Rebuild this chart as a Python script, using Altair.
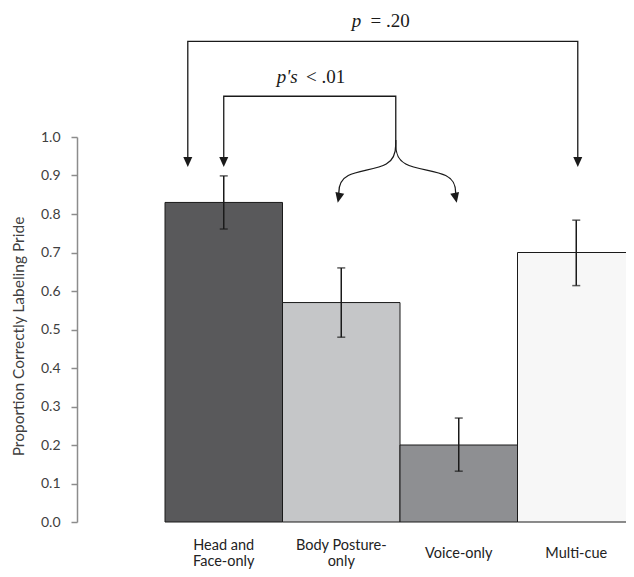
import altair as alt
import pandas as pd

# ---- chart values -------------------------------------------------------
conditions = ["Head and|Face-only", "Body  Posture-|only", "Voice-only", "Multi-cue"]
proportions = [0.83, 0.57, 0.20, 0.70]
err_low = [0.761, 0.480, 0.132, 0.614]
err_high = [0.899, 0.660, 0.270, 0.784]
bar_colors = ["#59595b", "#c5c6c8", "#8e8f92", "#f7f7f7"]
y_ticks = [0.0, 0.1, 0.2, 0.3, 0.4, 0.5, 0.6, 0.7, 0.8, 0.9, 1.0]
y_title = "Proportion Correctly Labeling Pride"

# ---- annotation geometry (x in bar-index units, 0 = first bar; y in proportion units)
bracket_seg = [1, 1, 1, 1, 2, 2, 2, 2]
bracket_ord = [0, 1, 2, 3, 0, 1, 2, 3]
bracket_u = [-0.306, -0.306, 3.013, 3.013, 0.0, 0.0, 1.464, 1.464]
bracket_y = [0.935, 1.2484, 1.2484, 0.935, 0.935, 1.1058, 1.1058, 0.9922]

curve_seg = [1, 1, 1, 1, 2, 2, 2, 2]
curve_ord = [0, 1, 2, 3, 0, 1, 2, 3]
curve_u = [1.464, 1.464, 0.979, 0.979, 1.464, 1.464, 1.974, 1.974]
curve_y = [0.9922, 0.9194, 0.9090, 0.8440, 0.9922, 0.9194, 0.9090, 0.8440]

arrow_u = [-0.306, 0.0, 3.013, 0.979, 1.974]
arrow_y = [0.935, 0.935, 0.935, 0.8422, 0.8422]
arrow_angle = [0, 0, 0, 12, 348]

ital_text = ["p", "p's"]
ital_u = [1.089, 0.451]
ital_y = [1.2867, 1.1396]
plain_text = ["= .20", "< .01"]
plain_u = [1.250, 0.700]
plain_y = [1.2867, 1.1396]

# ---- tables --------------------------------------------------------------
bars_df = pd.DataFrame({"condition": conditions, "prop": proportions,
                        "lo": err_low, "hi": err_high})
brackets_df = pd.DataFrame({"seg": bracket_seg, "ord": bracket_ord, "u": bracket_u, "y": bracket_y})
curves_df = pd.DataFrame({"seg": curve_seg, "ord": curve_ord, "u": curve_u, "y": curve_y})
arrows_df = pd.DataFrame({"u": arrow_u, "y": arrow_y, "ang": arrow_angle})
ital_df = pd.DataFrame({"t": ital_text, "u": ital_u, "y": ital_y})
plain_df = pd.DataFrame({"t": plain_text, "u": plain_u, "y": plain_y})

FONT = "Lato"
INK = "#1a1a1a"

x_band = alt.Scale(domain=conditions, range=[88, 558], paddingInner=0, paddingOuter=0)
y_lin = alt.Scale(domain=[0, 1], nice=False)

# two-line labels start higher so that one-line labels sit midway between their lines
x_axis = alt.Axis(domain=False, ticks=False, tickSize=0, labelAngle=0, title=None,
                  labelExpr="split(datum.label, '|')", labelFont=FONT,
                  labelFontSize=14.5, labelColor="#222222",
                  labelPadding={"condition": {"test": "indexof(datum.value, '|') >= 0",
                                              "value": 16},
                                "value": 24},
                  labelBaseline="top", labelLineHeight=16)
y_axis = alt.Axis(values=y_ticks, format=".1f", grid=False,
                  tickSize=6, tickColor="#8c8c8c", tickWidth=1.5,
                  domainColor="#8c8c8c", domainWidth=1.5, labelPadding=11,
                  labelFont=FONT, labelFontSize=14, labelColor="#404040",
                  title=y_title, titleFont=FONT, titleFontSize=15.5,
                  titleFontWeight="normal", titleColor="#404040",
                  titleAngle=-90, titleAlign="center", titleBaseline="middle",
                  titleX=-59, titleY=199)

def xenc():
    return alt.X("condition:N", sort=conditions, scale=x_band, axis=x_axis, title=None)

def yenc(field):
    return alt.Y(field, scale=y_lin, axis=y_axis, title=y_title)

bars = alt.Chart(bars_df).mark_bar(stroke=INK, strokeWidth=1).encode(
    x=xenc(), y=yenc("prop:Q"),
    color=alt.Color("condition:N", scale=alt.Scale(domain=conditions, range=bar_colors),
                    legend=None))
rules = alt.Chart(bars_df).mark_rule(color=INK, strokeWidth=1.5).encode(
    x=xenc(), y=yenc("lo:Q"), y2="hi:Q")
cap_lo = alt.Chart(bars_df).mark_tick(color=INK, orient="horizontal", size=8, thickness=1.5).encode(
    x=xenc(), y=yenc("lo:Q"))
cap_hi = alt.Chart(bars_df).mark_tick(color=INK, orient="horizontal", size=8, thickness=1.5).encode(
    x=xenc(), y=yenc("hi:Q"))

main = alt.layer(bars, rules, cap_lo, cap_hi)

ax = alt.Scale(domain=[-1.2489, 3.4234], nice=False, zero=False)
ay = alt.Scale(domain=[0, 1], nice=False)
ux = alt.X("u:Q", scale=ax, axis=None)
uy = alt.Y("y:Q", scale=ay, axis=None)

brackets = alt.Chart(brackets_df).mark_line(color=INK, strokeWidth=1.3).encode(
    x=ux, y=uy, detail="seg:N", order="ord:Q")
curves = alt.Chart(curves_df).mark_line(color=INK, strokeWidth=1.3, interpolate="basis").encode(
    x=ux, y=uy, detail="seg:N", order="ord:Q")
arrows = alt.Chart(arrows_df).mark_point(shape="M-0.9,-1L0.9,-1L0,1Z", filled=True, size=100,
                                         color=INK, opacity=1).encode(
    x=ux, y=uy, angle=alt.Angle("ang:Q", scale=None))
ital = alt.Chart(ital_df).mark_text(font="Liberation Serif", fontStyle="italic", fontSize=19,
                                    align="left", baseline="alphabetic", color=INK).encode(
    x=ux, y=uy, text="t:N")
plain = alt.Chart(plain_df).mark_text(font="Liberation Serif", fontSize=19, align="left",
                                      baseline="alphabetic", color=INK).encode(
    x=ux, y=uy, text="t:N")

ann = alt.layer(brackets, curves, arrows, ital, plain)

chart = alt.layer(main, ann).resolve_scale(x="independent", y="independent").properties(
    width=549, height=385, autosize="none",
    padding={"left": 69, "top": 129, "right": 0, "bottom": 47},
).configure_view(stroke=None)

chart.save("out.html", embed_options={"renderer": "svg", "actions": False})
